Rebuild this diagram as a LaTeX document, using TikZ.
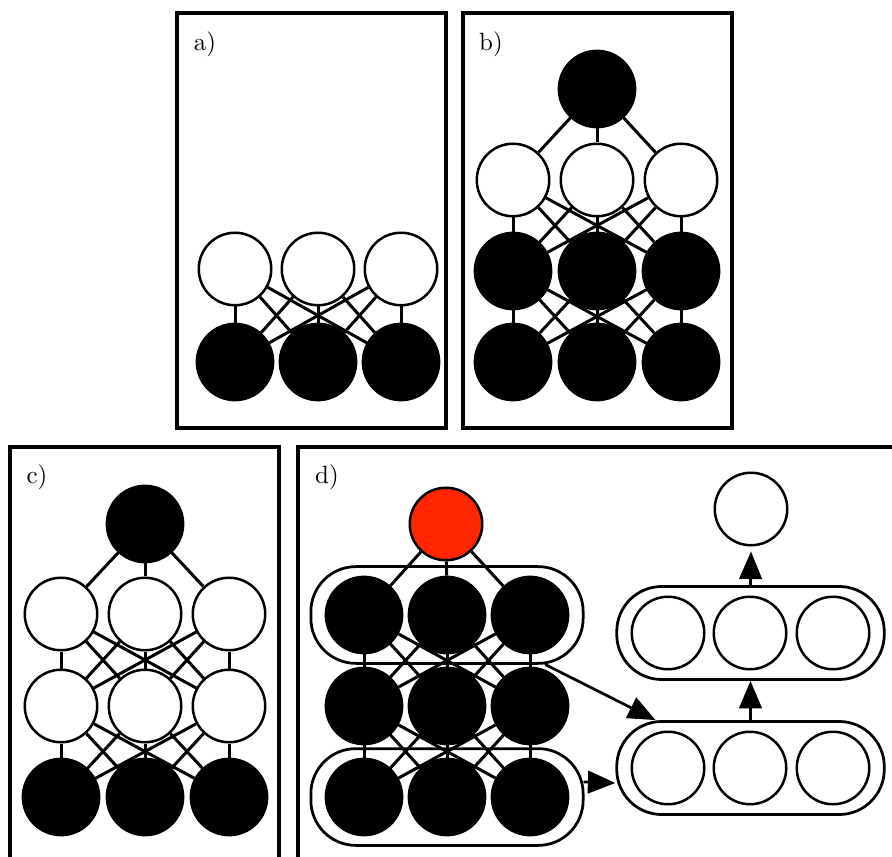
\documentclass[tikz,border=0pt]{standalone}
\usetikzlibrary{arrows.meta,fit,backgrounds}
\definecolor{topred}{RGB}{255,38,0}
\begin{document}
\begin{tikzpicture}[x=0.4pt, y=-0.4pt, line cap=round,
    unit/.style={circle, draw, line width=1pt, inner sep=0pt, minimum size=29pt},
    hid/.style={unit, fill=white},
    vis/.style={unit, fill=black, minimum size=30.5pt},
    redunit/.style={unit, fill=topred},
    link/.style={line width=1.2pt},
    panel/.style={draw, line width=1.3pt},
    pill/.style={draw, line width=1.1pt, rounded corners=18pt, inner xsep=5.5pt, inner ysep=3.6pt},
    flow/.style={line width=1.1pt, -{Triangle[length=11pt, width=9pt]}},
    tag/.style={inner sep=0pt}]
  \useasboundingbox (0,0) rectangle (892,857);

  % Rahmen der vier Teilbilder
  \draw[panel] (177,13) rectangle (446,428);
  \draw[panel] (463,13) rectangle (732,428);
  \draw[panel] (10,447) rectangle (279,870);
  \draw[panel] (298,447) rectangle (900,870);
  \node[tag] (la) at (205,44) {a)};
  \node[tag] (lb) at (491,44) {b)};
  \node[tag] (lc) at (37,477) {c)};
  \node[tag] (ld) at (327,477) {d)};

  % a) zwei Schichten
  \foreach \i/\x in {1/235,2/318,3/401} {
    \node[hid] (a-h-\i) at (\x,269) {};
    \node[vis] (a-v-\i) at (\x,362) {};
  }

  % b) drei Schichten und eine Spitze
  \node[vis] (b-top) at (597,89) {};
  \foreach \i/\x in {1/513,2/597,3/681} {
    \node[hid] (b-h-\i) at (\x,180) {};
    \node[vis] (b-v-\i) at (\x,271) {};
    \node[vis] (b-w-\i) at (\x,362) {};
  }

  % c) zwei verborgene Schichten
  \node[vis] (c-top) at (145,524) {};
  \foreach \i/\x in {1/61,2/145,3/229} {
    \node[hid] (c-h-\i) at (\x,614) {};
    \node[hid] (c-g-\i) at (\x,706) {};
    \node[vis] (c-v-\i) at (\x,797) {};
  }

  % d) linker Stapel mit roter Spitze
  \node[redunit] (d-top) at (446,524) {};
  \foreach \i/\x in {1/364,2/447,3/530} {
    \node[vis] (d-u-\i) at (\x,615) {};
    \node[vis] (d-m-\i) at (\x,706) {};
    \node[vis] (d-l-\i) at (\x,797) {};
  }
  \node[pill, fit=(d-u-1)(d-u-3)] (lp-top) {};
  \node[pill, fit=(d-l-1)(d-l-3)] (lp-bot) {};

  % d) rechter Stapel
  \node[hid] (r-top) at (751,509) {};
  \foreach \i/\x in {1/668,2/750,3/833} {
    \node[hid] (r-u-\i) at (\x,633) {};
    \node[hid] (r-l-\i) at (\x,768) {};
  }
  \node[pill, fit=(r-u-1)(r-u-3)] (rp-top) {};
  \node[pill, fit=(r-l-1)(r-l-3)] (rp-bot) {};

  % Verbindungen hinter den Kreisen
  \begin{scope}[on background layer]
    \foreach \i in {1,2,3} {
      \draw[link] (b-top) -- (b-h-\i);
      \draw[link] (c-top) -- (c-h-\i);
      \draw[link] (d-top) -- (d-u-\i);
      \foreach \j in {1,2,3} {
        \draw[link] (a-h-\i) -- (a-v-\j);
        \draw[link] (b-h-\i) -- (b-v-\j);
        \draw[link] (b-v-\i) -- (b-w-\j);
        \draw[link] (c-h-\i) -- (c-g-\j);
        \draw[link] (c-g-\i) -- (c-v-\j);
        \draw[link] (d-u-\i) -- (d-m-\j);
        \draw[link] (d-m-\i) -- (d-l-\j);
      }
    }
  \end{scope}

  % Pfeile zwischen den Stapeln
  \draw[flow] (lp-top) -- (rp-bot);
  \draw[flow] ([yshift=6pt]lp-bot.east) -- ([yshift=-6pt]rp-bot.west);
  \draw[flow] (rp-bot.north) -- (rp-top.south);
  \draw[flow] (rp-top.north) -- ([yshift=-2pt]r-top.south);
\end{tikzpicture}
\end{document}
